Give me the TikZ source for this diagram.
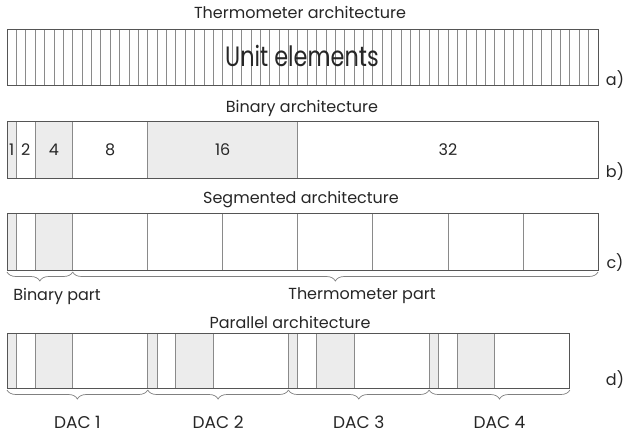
\documentclass[tikz,border=0pt]{standalone}
\usepackage{fontspec}
\setmainfont{Poppins}
\newfontfamily\condensedfont{Poppins}[FakeStretch=0.8]
\usetikzlibrary{decorations.pathreplacing}
\definecolor{outerc}{HTML}{555555}
\definecolor{innerc}{HTML}{8A8A8A}
\definecolor{shadec}{HTML}{ECECEC}
\definecolor{bracec}{HTML}{808080}
\tikzset{
  outerbox/.style={draw=outerc, line width=0.9pt},
  innerline/.style={draw=innerc, line width=0.8pt},
  shaded/.style={fill=shadec},
  title/.style={font=\fontsize{16}{18}\selectfont, inner sep=0pt, text=black!85},
  lbl/.style={font=\fontsize{16}{18}\selectfont, inner sep=0pt, text=black!85},
  daclbl/.style={font=\fontsize{17}{19}\selectfont, inner sep=0pt, text=black!85},
  bigl/.style={font=\condensedfont\fontsize{28}{30}\selectfont, inner sep=0pt, text=black!85},
  bracestyle/.style={draw=bracec, line width=0.7pt, decorate,
     decoration={brace, mirror, amplitude=9pt, aspect=0.5}},
}
\begin{document}
\begin{tikzpicture}[x=1pt,y=-1pt]
\useasboundingbox (0,0) rectangle (624,437);
\pgfmathsetmacro{\u}{591/63}
% ---------- a) thermometer
\node[title] (ta) at (300,12) {Thermometer architecture};
\foreach \i in {1,...,62} \draw[innerline] ({7+\i*\u},29) -- ++(0,56);
\draw[outerbox] (7,29) rectangle (598,85);
\node[bigl] (ue) at (302,56) {Unit elements};
\node[lbl] (la) at (615,80) {a)};
% ---------- b) binary
\node[title] (tb) at (302,108) {Binary architecture};
\fill[shaded] (7,121) rectangle ({7+\u},178);
\fill[shaded] ({7+3*\u},121) rectangle ({7+7*\u},178);
\fill[shaded] ({7+15*\u},121) rectangle ({7+31*\u},178);
\foreach \k in {1,3,7,15,31} \draw[innerline] ({7+\k*\u},121) -- ++(0,57);
\draw[outerbox] (7,121) rectangle (598,178);
\node[lbl] (b1) at ({7+0.5*\u},150) {1};
\node[lbl] (b2) at ({7+2*\u},150) {2};
\node[lbl] (b4) at ({7+5*\u},150) {4};
\node[lbl] (b8) at ({7+11*\u},150) {8};
\node[lbl] (b16) at ({7+23*\u},150) {16};
\node[lbl] (b32) at ({7+47*\u},150) {32};
\node[lbl] (lb) at (615,172) {b)};
% ---------- c) segmented
\node[title] (tc) at (301,200) {Segmented architecture};
\fill[shaded] (7,213) rectangle ({7+\u},270);
\fill[shaded] ({7+3*\u},213) rectangle ({7+7*\u},270);
\foreach \k in {1,3,7,15,23,31,39,47,55} \draw[innerline] ({7+\k*\u},213) -- ++(0,57);
\draw[outerbox] (7,213) rectangle (598,270);
\coordinate (cb0) at (7,272);
\coordinate (cb1) at ({7+7*\u},272);
\coordinate (cb2) at (598,272);
\draw[bracestyle] (cb0) -- (cb1);
\draw[bracestyle] (cb1) -- (cb2);
\node[lbl] (bp) at (57,296) {Binary part};
\node[lbl] (tp) at (362,296) {Thermometer part};
\node[lbl] (lc) at (615,263) {c)};
% ---------- d) parallel
\node[title] (td) at (290,322) {Parallel architecture};
\foreach \d in {0,1,2,3}{
  \pgfmathsetmacro{\xo}{7+\d*15*\u}
  \fill[shaded] (\xo,333) rectangle ({\xo+\u},388);
  \fill[shaded] ({\xo+3*\u},333) rectangle ({\xo+7*\u},388);
  \foreach \k in {1,3,7} \draw[innerline] ({\xo+\k*\u},333) -- ++(0,55);
  \ifnum\d>0 \draw[innerline] (\xo,333) -- ++(0,55); \fi
}
\draw[outerbox] (7,333) rectangle ({7+60*\u},388);
\foreach \d in {0,...,4} \coordinate (db\d) at ({7+\d*15*\u},390);
\draw[bracestyle] (db0) -- (db1);
\draw[bracestyle] (db1) -- (db2);
\draw[bracestyle] (db2) -- (db3);
\draw[bracestyle] (db3) -- (db4);
\node[daclbl] (dac1) at ({7+7.5*\u},422) {DAC 1};
\node[daclbl] (dac2) at ({7+22.5*\u},422) {DAC 2};
\node[daclbl] (dac3) at ({7+37.5*\u},422) {DAC 3};
\node[daclbl] (dac4) at ({7+52.5*\u},422) {DAC 4};
\node[lbl] (ld) at (615,380) {d)};
\end{tikzpicture}
\end{document}
